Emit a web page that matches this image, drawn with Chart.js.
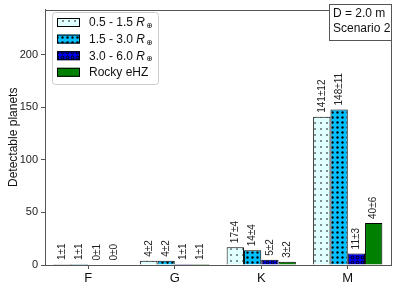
<!DOCTYPE html>
<html>
<head>
<meta charset="utf-8">
<script src="https://cdn.jsdelivr.net/npm/chart.js@4/dist/chart.umd.min.js"></script>
<style>
  html, body { margin: 0; padding: 0; background: #fff; }
  #wrap { width: 399px; height: 290px; }
</style>
</head>
<body>
<div id="wrap"><canvas id="c" width="399" height="290"></canvas></div>
<script>
// star types on the x axis
const categories = ["F", "G", "K", "M"];

// planet yields per size bin (tiny values where the bar is just a line)
const small = [1, 4, 17, 141];
const medium = [1, 4, 14, 148];
const large = [0.4, 1, 5, 11];
const rockyHZ = [0.4, 1, 3, 40];

// labels written over the bars
const smallLabels = ["1±1", "4±2", "17±4", "141±12"];
const mediumLabels = ["1±1", "4±2", "14±4", "148±11"];
const largeLabels = ["0±1", "1±1", "5±2", "11±3"];
const rockyLabels = ["0±0", "1±1", "3±2", "40±6"];

const seriesNames = ["0.5 - 1.5 ", "1.5 - 3.0 ", "3.0 - 6.0 ", "Rocky eHZ"];
const yTicks = [0, 50, 100, 150, 200];

const FONT = "'Liberation Sans', Arial, sans-serif";

// little dotted fills, like matplotlib hatches
function dotPattern(bg, size, radius, filled) {
  const p = document.createElement("canvas");
  p.width = size; p.height = size;
  const g = p.getContext("2d");
  g.fillStyle = bg;
  g.fillRect(0, 0, size, size);
  g.beginPath();
  g.arc(size / 2, size / 2, radius, 0, Math.PI * 2);
  if (filled) {
    g.fillStyle = "#000";
    g.fill();
  } else {
    g.strokeStyle = "#000";
    g.lineWidth = 1;
    g.stroke();
  }
  return g.createPattern(p, "repeat");
}

const ctx = document.getElementById("c").getContext("2d");
const fills = [
  dotPattern("#e0ffff", 6, 0.8, true),
  dotPattern("#00bfff", 5, 1.2, true),
  dotPattern("#0000ee", 5, 1.4, false),
  "#008000"
];
const allLabels = [smallLabels, mediumLabels, largeLabels, rockyLabels];

const valueLabels = {
  id: "valueLabels",
  afterDatasetsDraw(chart) {
    const c = chart.ctx;
    c.save();
    c.font = "10px " + FONT;
    c.fillStyle = "#222";
    c.textAlign = "left";
    c.textBaseline = "middle";
    chart.data.datasets.forEach((ds, i) => {
      chart.getDatasetMeta(i).data.forEach((el, j) => {
        c.save();
        c.translate(el.x, el.y - 4);
        c.rotate(-Math.PI / 2);
        c.fillText(allLabels[i][j], 0, 0);
        c.restore();
      });
    });
    c.restore();
  }
};

const frame = {
  id: "frame",
  afterDraw(chart) {
    const c = chart.ctx;
    const a = chart.chartArea;
    c.save();
    c.strokeStyle = "#555";
    c.lineWidth = 1;
    c.strokeRect(Math.round(a.left) + 0.5, Math.round(a.top) + 0.5,
      Math.round(a.right - a.left), Math.round(a.bottom - a.top));

    // legend box
    const lx = 52, ly = 12, lw = 106, lh = 72;
    c.fillStyle = "rgba(255,255,255,0.9)";
    c.strokeStyle = "#ccc";
    c.beginPath();
    c.roundRect(lx + 0.5, ly + 0.5, lw, lh, 3);
    c.fill();
    c.stroke();
    seriesNames.forEach((name, i) => {
      const y = ly + 10 + i * 16.6;
      c.fillStyle = fills[i];
      c.fillRect(lx + 5, y - 4, 23, 9);
      c.strokeStyle = "#000";
      c.strokeRect(lx + 5.5, y - 3.5, 22, 8);
      c.fillStyle = "#111";
      c.textBaseline = "middle";
      c.textAlign = "left";
      c.font = "12px " + FONT;
      c.fillText(name, lx + 37, y + 1);
      if (i < 3) {
        let x = lx + 37 + c.measureText(name).width;
        c.font = "italic 12px " + FONT;
        c.fillText("R", x, y + 1);
        x += c.measureText("R").width + 1;
        c.font = "8px 'DejaVu Sans', sans-serif";
        c.fillText("⊕", x, y + 4);
      }
    });

    // scenario box, top right
    const bx = 329, by = 4, bw = 62, bh = 36;
    c.fillStyle = "#fff";
    c.fillRect(bx, by, bw, bh);
    c.strokeStyle = "#555";
    c.strokeRect(bx + 0.5, by + 0.5, bw, bh);
    c.fillStyle = "#111";
    c.font = "12px " + FONT;
    c.fillText("D = 2.0 m", bx + 4, by + 10);
    c.fillText("Scenario 2", bx + 4, by + 25);
    c.restore();
  }
};

function makeSet(label, data, i) {
  return {
    label: label,
    data: data,
    backgroundColor: fills[i],
    borderColor: "#000",
    borderWidth: 1,
    barPercentage: 1.0,
    categoryPercentage: 0.8
  };
}

new Chart(ctx, {
  type: "bar",
  data: {
    labels: categories,
    datasets: [
      makeSet(seriesNames[0], small, 0),
      makeSet(seriesNames[1], medium, 1),
      makeSet(seriesNames[2], large, 2),
      makeSet(seriesNames[3], rockyHZ, 3)
    ]
  },
  options: {
    responsive: false,
    animation: false,
    layout: { padding: { top: 4, right: 8, left: 6, bottom: 0 } },
    plugins: {
      legend: { display: false },
      tooltip: { enabled: false }
    },
    scales: {
      x: {
        offset: true,
        grid: {
          offset: false,
          drawOnChartArea: false,
          drawTicks: true,
          tickLength: 4,
          color: "#555"
        },
        border: { color: "#555" },
        ticks: { color: "#111", font: { family: FONT, size: 13 }, padding: 2 },
        afterFit(axis) { axis.height = 25; }
      },
      y: {
        min: 0,
        max: 243,
        afterBuildTicks(axis) { axis.ticks = yTicks.map(v => ({ value: v })); },
        grid: {
          drawOnChartArea: false,
          drawTicks: true,
          tickLength: 4,
          color: "#555"
        },
        border: { color: "#555" },
        ticks: { color: "#222", font: { family: FONT, size: 11 }, padding: 3 },
        title: {
          display: true,
          text: "Detectable planets",
          color: "#111",
          font: { family: FONT, size: 12 },
          padding: 0
        },
        afterFit(axis) { axis.width = 39; }
      }
    }
  },
  plugins: [valueLabels, frame]
});
</script>
</body>
</html>
